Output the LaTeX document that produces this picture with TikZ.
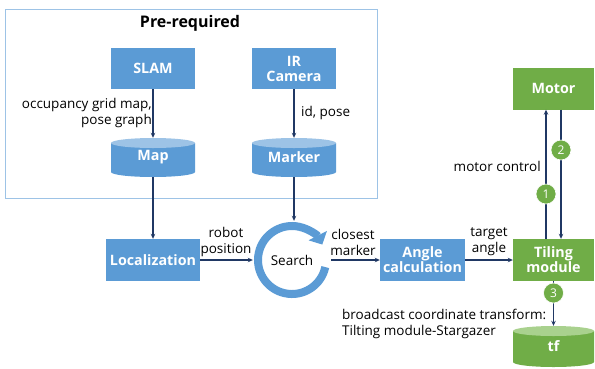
\documentclass[tikz,border=0pt]{standalone}
\usepackage{fontspec}
\setmainfont{Open Sans}
\usetikzlibrary{arrows.meta}
\definecolor{bl}{HTML}{5B9BD5}
\definecolor{bltop}{HTML}{9DC3E6}
\definecolor{gr}{HTML}{70AD47}
\definecolor{grtop}{HTML}{A9D18E}
\definecolor{nv}{HTML}{203864}
\definecolor{framec}{HTML}{9DC3E6}
% name, cx, top y, bottom y, half width, body colour, top colour, text
\newcommand\mycyl[8]{%
  \fill[#6] (#2-#5,#3+5) -- (#2-#5,#4-5) arc[start angle=180,end angle=0,x radius=#5,y radius=5] -- (#2+#5,#3+5) -- cycle;
  \fill[#7] (#2,#3+5) ellipse[x radius=#5,y radius=5];
  \node[cyltext, minimum width=2*#5, minimum height=#4-#3] (#1) at (#2,{(#3+#4)/2}) {\raisebox{-4pt}{#8}};
}
\begin{document}
\begin{tikzpicture}[x=1pt,y=-1pt,
  box/.style={fill=#1, text=white, font=\fontsize{14.3}{16}\selectfont\bfseries, align=center, inner sep=0},
  cyltext/.style={text=white, font=\fontsize{14.3}{16}\selectfont\bfseries, inner sep=0},
  lbl/.style={font=\fontsize{13.5}{16}\selectfont, text=black, inner sep=0},
  arr/.style={draw=nv, line width=1.1pt, -{Stealth[length=5pt,width=4.5pt]}},
  num/.style={circle, fill=gr, draw=white, line width=0.6pt, minimum size=20pt, inner sep=0, text=white, font=\fontsize{12}{14}\selectfont},
]
\useasboundingbox (0,0) rectangle (595,368);

% frame
\node[draw=framec, line width=0.8pt, minimum width=372pt, minimum height=189pt, inner sep=0] (pre) at (191,103.5) {};
\node[font=\fontsize{16}{18}\selectfont\bfseries, inner sep=0] (title) at (190,23) {Pre-required};

% boxes
\node[box=bl, minimum width=84pt, minimum height=41pt] (slam) at (153,68.5) {SLAM};
\node[box=bl, minimum width=84pt, minimum height=41pt] (ir) at (294,68.5) {IR\\[-1pt]Camera};
\mycyl{map}{153}{138}{177}{42}{bl}{bltop}{Map}
\mycyl{marker}{294}{138}{177}{42}{bl}{bltop}{Marker}

\node[box=bl, minimum width=94pt, minimum height=42pt] (loc) at (153,260) {Localization};
\node[box=bl, minimum width=85pt, minimum height=42pt] (angle) at (422.5,260) {Angle\\[-1pt]calculation};
\node[box=gr, minimum width=81pt, minimum height=42pt] (tiling) at (553.5,260) {Tiling\\[-1pt]module};
\node[box=gr, minimum width=81pt, minimum height=42pt] (motor) at (553.5,88.5) {Motor};
\mycyl{tf}{553.5}{326}{367}{40.5}{gr}{grtop}{tf}

% search
\node[circle, minimum size=78pt, inner sep=0, font=\fontsize{13.5}{16}\selectfont] (search) at (292,260) {Search};
\draw[bl, line width=8pt, -{Triangle[length=10pt,width=20pt]}] (search.center) ++(12:34) arc[start angle=12,end angle=333,radius=34];

% arrows
\draw[arr] (slam.south) -- (map.north);
\draw[arr] (ir.south) -- (marker.north);
\draw[arr] (map.south) -- (loc.north);
\draw[arr] (marker.south) -- (marker.south |- search.north);
\draw[arr] (loc.east) -- (search.west);
\draw[arr] (search.east) -- (angle.west);
\draw[arr] (angle.east) -- (tiling.west);
\draw[arr] ([xshift=-7.5pt]tiling.north) -- ([xshift=-7.5pt]motor.south);
\draw[arr] ([xshift=7.5pt]motor.south) -- ([xshift=7.5pt]tiling.north);
\draw[arr] (tiling.south) -- (tf.north);

\node[num] (n1) at (546,194) {1};
\node[num] (n2) at (561,150) {2};
\node[num] (n3) at (553.5,293) {3};

% labels
\node[lbl, align=right, anchor=east] (l1) at (152,112.5) {occupancy grid map,\\pose graph};
\node[lbl, anchor=west] (l2) at (301,113) {id, pose};
\node[lbl, align=center] (l3) at (226,242) {robot\\position};
\node[lbl, align=center] (l4) at (353,242) {closest\\marker};
\node[lbl, align=center] (l5) at (489,242) {target\\angle};
\node[lbl, anchor=east] (l6) at (541,166) {motor control};
\node[lbl, align=left, anchor=west] (l7) at (342,324) {broadcast coordinate transform:\\Tilting module-Stargazer};
\end{tikzpicture}
\end{document}
